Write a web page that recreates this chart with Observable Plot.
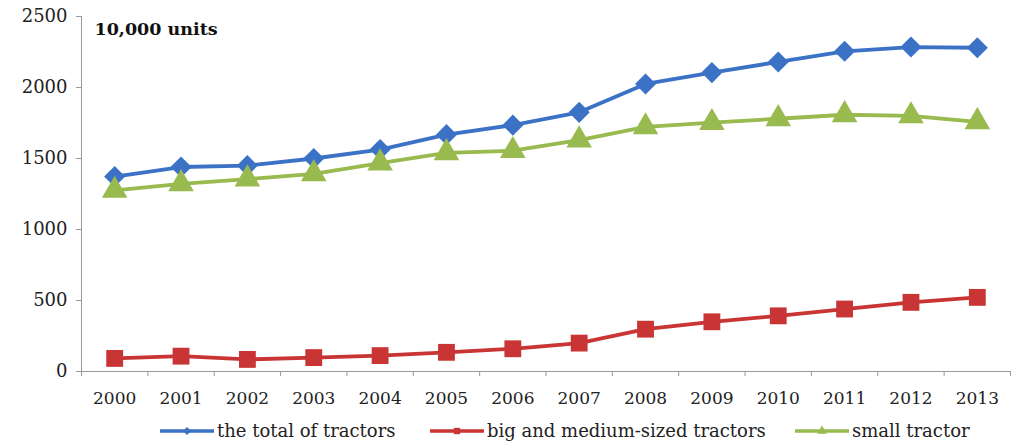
<!DOCTYPE html>
<html>
<head>
<meta charset="utf-8">
<script src="https://cdn.jsdelivr.net/npm/d3@7"></script>
<script src="https://cdn.jsdelivr.net/npm/@observablehq/plot@0.6"></script>
<style>
  body { margin: 0; background: #fff; font-family: "DejaVu Serif", serif; }
  #chart { width: 1023px; position: relative; }
  .legend { position: relative; height: 30px; font-family: "DejaVu Serif", serif; font-size: 18px; color: #222; }
  .legend .item { position: absolute; top: 6px; display: flex; align-items: center; gap: 3px; white-space: nowrap; }
</style>
</head>
<body>
<div id="chart"></div>
<script>
const years = [2000, 2001, 2002, 2003, 2004, 2005, 2006, 2007, 2008, 2009, 2010, 2011, 2012, 2013];
const totalTractors = [1373, 1440, 1450, 1500, 1563, 1668, 1735, 1825, 2025, 2105, 2180, 2255, 2285, 2280];
const bigMedium = [92, 108, 85, 98, 112, 135, 160, 200, 298, 350, 392, 440, 487, 522];
const smallTractor = [1275, 1322, 1355, 1392, 1468, 1540, 1555, 1630, 1722, 1752, 1780, 1808, 1800, 1758];
const seriesNames = ["the total of tractors", "big and medium-sized tractors", "small tractor"];
const seriesColors = ["#3c72c6", "#c93535", "#98ba4e"];
const seriesSymbols = ["diamond2", "square", "triangle"];
const yTicks = [0, 500, 1000, 1500, 2000, 2500];
const unitLabel = "10,000 units";

const FONT = "'DejaVu Serif', serif";
const allValues = [totalTractors, bigMedium, smallTractor];
const data = [];
allValues.forEach((vals, s) => vals.forEach((v, i) => data.push({year: years[i], value: v, series: seriesNames[s]})));
const boundaries = years.map(y => y - 0.5).concat([years[years.length - 1] + 0.5]);

const plot = Plot.plot({
  width: 1023,
  height: 414,
  marginLeft: 81,
  marginRight: 13,
  marginTop: 16,
  marginBottom: 43,
  style: {fontFamily: FONT, fontSize: "17px", color: "#222", background: "#fff"},
  x: {domain: [years[0] - 0.5, years[years.length - 1] + 0.5], axis: null},
  y: {domain: [0, 2500], axis: null},
  color: {domain: seriesNames, range: seriesColors},
  symbol: {domain: seriesNames, range: seriesSymbols},
  marks: [
    Plot.axisX({ticks: years, tickFormat: d => String(d), tickSize: 0, tickPadding: 20, fontSize: 17, fontFamily: FONT, label: null}),
    Plot.axisX({ticks: boundaries, tickFormat: () => "", tickSize: 5, stroke: "#999", label: null}),
    Plot.axisY({ticks: yTicks, tickFormat: d => String(d), tickSize: 5, tickPadding: 9, stroke: "#999", fontSize: 18, fontFamily: FONT, label: null}),
    Plot.ruleX([years[0] - 0.5], {stroke: "#999"}),
    Plot.ruleY([0], {stroke: "#999"}),
    Plot.line(data, {x: "year", y: "value", z: "series", stroke: "series", strokeWidth: 3.8}),
    Plot.dot(data, {x: "year", y: "value", symbol: "series", fill: "series", r: 9.5, stroke: null}),
    Plot.text([unitLabel], {frameAnchor: "top-left", dx: 13, dy: 6, text: d => d, fontWeight: "bold", fontSize: 17.5, fontFamily: FONT, fill: "#111", textAnchor: "start"})
  ]
});
document.getElementById("chart").appendChild(plot);

const legendLeft = [160, 430, 795];
const legend = document.createElement("div");
legend.className = "legend";
seriesNames.forEach((name, i) => {
  const item = document.createElement("div");
  item.className = "item";
  item.style.left = legendLeft[i] + "px";
  const sym = d3.symbol().type({diamond2: d3.symbolDiamond2, square: d3.symbolSquare, triangle: d3.symbolTriangle}[seriesSymbols[i]]).size(40)();
  item.innerHTML = `<svg width="54" height="14"><line x1="0" x2="54" y1="7" y2="7" stroke="${seriesColors[i]}" stroke-width="3.5"/><path d="${sym}" transform="translate(27,7)" fill="${seriesColors[i]}"/></svg><span>${name}</span>`;
  legend.appendChild(item);
});
document.getElementById("chart").appendChild(legend);
</script>
</body>
</html>
